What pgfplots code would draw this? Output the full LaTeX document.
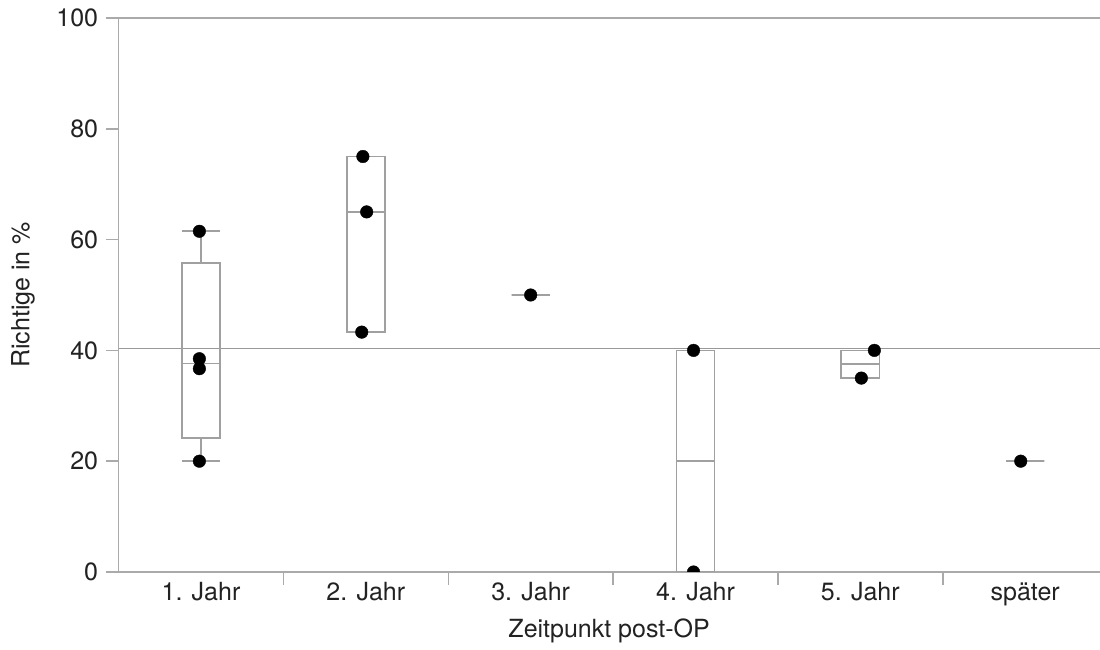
\documentclass[border=0pt]{standalone}
\usepackage{fontspec}
\setmainfont{TeX Gyre Heros}
\usepackage{pgfplots}
\pgfplotsset{compat=1.18}
\usepgfplotslibrary{statistics}
\definecolor{boxgray}{HTML}{A0A0A0}
\definecolor{axgray}{HTML}{AAAAAA}
\definecolor{meangray}{HTML}{999999}
\definecolor{txt}{HTML}{222222}
\begin{document}
\begin{tikzpicture}
\path[use as bounding box] (0pt,0pt) rectangle (1100pt,650pt);
\begin{axis}[
  at={(118.6pt,78pt)}, anchor=south west,
  width=989pt, height=554pt, scale only axis,
  xmin=-0.5, xmax=5.5, ymin=0, ymax=100,
  axis line style={draw=axgray, line width=1.5pt},
  font=\fontsize{25}{30}\selectfont\color{txt},
  /pgf/number format/assume math mode=true,
  ytick={0,20,40,60,80,100},
  ytick pos=left, xtick pos=bottom,
  tick align=outside,
  major tick length=13pt,
  tick style={draw=axgray, line width=1.5pt},
  yticklabel style={xshift=-4pt},
  xticklabel style={yshift=-7pt},
  xtick={0.5,1.5,2.5,3.5,4.5},
  xticklabels={},
  extra x ticks={0,1,2,3,4,5},
  extra x tick labels={1. Jahr,2. Jahr,3. Jahr,4. Jahr,5. Jahr,später},
  extra x tick style={major tick length=0pt},
  xlabel={Zeitpunkt post-OP},
  ylabel={Richtige in \%},
  every axis x label/.style={at={(rel axis cs:0.496,0)}, anchor=north, yshift=-43pt},
  every axis y label/.style={at={(rel axis cs:0,0.5)}, xshift=-95.6pt, rotate=90, anchor=center},
  boxplot/draw direction=y,
  clip marker paths=true,
]
\addplot[meangray, line width=1.5pt] coordinates {(-0.5,40.38) (5.5,40.38)};
% box plots
\addplot[draw=boxgray, line width=1.6pt, boxplot/draw direction=y, boxplot prepared={draw position=0, lower whisker=20, lower quartile=24.2, median=37.6, upper quartile=55.75, upper whisker=61.5, box extend=0.232, whisker extend=0.232}] coordinates {};
\addplot[draw=boxgray, line width=1.6pt, boxplot/draw direction=y, boxplot prepared={draw position=1, lower whisker=43.3, lower quartile=43.3, median=65, upper quartile=75, upper whisker=75, box extend=0.232, whisker extend=0.232}] coordinates {};
\addplot[draw=boxgray, line width=1.6pt, boxplot/draw direction=y, boxplot prepared={draw position=2, lower whisker=50, lower quartile=50, median=50, upper quartile=50, upper whisker=50, box extend=0.232, whisker extend=0.232}] coordinates {};
\addplot[draw=boxgray, line width=1.6pt, boxplot/draw direction=y, boxplot prepared={draw position=3, lower whisker=0, lower quartile=0, median=20, upper quartile=40, upper whisker=40, box extend=0.232, whisker extend=0.232}] coordinates {};
\addplot[draw=boxgray, line width=1.6pt, boxplot/draw direction=y, boxplot prepared={draw position=4, lower whisker=35, lower quartile=35, median=37.5, upper quartile=40, upper whisker=40, box extend=0.232, whisker extend=0.232}] coordinates {};
\addplot[draw=boxgray, line width=1.6pt, boxplot/draw direction=y, boxplot prepared={draw position=5, lower whisker=20, lower quartile=20, median=20, upper quartile=20, upper whisker=20, box extend=0.232, whisker extend=0.232}] coordinates {};
% data points
\addplot[only marks, mark=*, mark size=6.3pt, black] coordinates {
  (-0.01,61.5) (-0.01,38.5) (-0.01,36.7) (-0.01,20)
  (0.982,75) (1.005,65) (0.975,43.3)
  (2,50)
  (2.988,40) (2.988,0)
  (4.085,40) (4.006,35)
  (4.973,20)
};
\end{axis}
\end{tikzpicture}
\end{document}
